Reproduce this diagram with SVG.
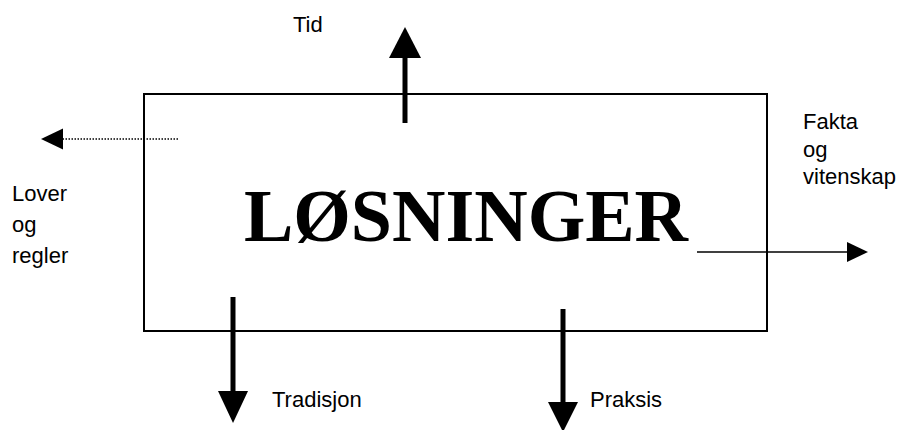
<svg xmlns="http://www.w3.org/2000/svg" width="906" height="430" viewBox="0 0 906 430">
<style>
.lbl{font-family:"Liberation Sans",Arial,sans-serif;font-size:22px;fill:#000}
.title{font-family:"Liberation Serif","Times New Roman",serif;font-size:74px;font-weight:bold;fill:#000}
.thick{stroke:#000;stroke-width:5;fill:none}
.thin{stroke:#000;stroke-width:1.5;fill:none}
.dot{stroke:#000;stroke-width:1.5;stroke-dasharray:1.5 1.5;fill:none}
</style>
<rect width="906" height="430" fill="#fff"/>
<g id="box">
<rect x="144" y="94" width="623" height="237" fill="none" stroke="#000" stroke-width="2"/>
<text class="title" x="466" y="241" text-anchor="middle">LØSNINGER</text>
</g>
<g id="connectors">
<line class="thick" x1="405" y1="123" x2="405" y2="56"/>
<polygon points="405,27 389,58 421,58" fill="#000"/>
<line class="dot" x1="178" y1="139" x2="62" y2="139"/>
<polygon points="41,139 63,128.5 63,149.5" fill="#000"/>
<line class="thin" x1="697" y1="252" x2="848" y2="252"/>
<polygon points="868,252 847,242 847,262" fill="#000"/>
<line class="thick" x1="233" y1="297" x2="233" y2="393"/>
<polygon points="233,423 218,391 248,391" fill="#000"/>
<line class="thick" x1="563" y1="309" x2="563" y2="404"/>
<polygon points="563,432 548,402 578,402" fill="#000"/>
</g>
<g id="label-tid"><text class="lbl" x="293" y="32">Tid</text></g>
<g id="label-lover"><text class="lbl" x="12" y="201">Lover</text><text class="lbl" x="12" y="232">og</text><text class="lbl" x="12" y="263">regler</text></g>
<g id="label-fakta"><text class="lbl" x="803" y="129">Fakta</text><text class="lbl" x="803" y="157">og</text><text class="lbl" x="803" y="184">vitenskap</text></g>
<g id="label-tradisjon"><text class="lbl" x="272" y="407">Tradisjon</text></g>
<g id="label-praksis"><text class="lbl" x="590" y="407">Praksis</text></g>
</svg>
